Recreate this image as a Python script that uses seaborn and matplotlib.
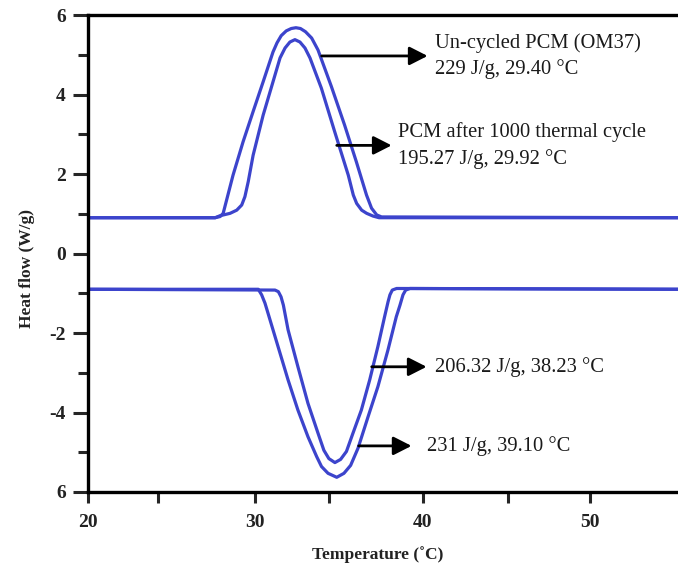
import matplotlib
matplotlib.use("Agg")
import matplotlib.pyplot as plt
import seaborn as sns
import pandas as pd

sns.set_theme(style="ticks")
plt.rcParams['font.family'] = ['Liberation Serif', 'DejaVu Serif']

# ---- data ----
# Melting (upper) curves
melt_uncycled_x = [20, 27.6, 27.9, 28.08, 28.67, 29.27, 29.87, 30.47, 31.06, 31.3, 31.55, 31.85,
                   32.15, 32.43, 32.7, 33.0, 33.37, 33.75, 34.55, 35.34, 36.04, 36.65, 36.95,
                   37.26, 37.55, 55.4]
melt_uncycled_y = [0.9, 0.9, 0.93, 1.01, 1.97, 2.81, 3.57, 4.32, 5.07, 5.30, 5.48, 5.60,
                   5.66, 5.68, 5.66, 5.58, 5.42, 5.12, 4.20, 3.23, 2.31, 1.47, 1.14,
                   0.97, 0.92, 0.9]

melt_cycled_x = [20, 27.6, 27.89, 28.49, 28.89, 29.19, 29.38, 29.58, 29.87, 30.47, 31.06, 31.48,
                 31.78, 32.07, 32.37, 32.67, 32.97, 33.27, 33.95, 34.75, 35.56, 35.86, 36.06,
                 36.36, 36.66, 37.05, 37.4, 55.4]
melt_cycled_y = [0.9, 0.9, 0.95, 1.01, 1.09, 1.22, 1.43, 1.81, 2.47, 3.48, 4.32, 4.92,
                 5.17, 5.32, 5.38, 5.32, 5.17, 4.92, 4.16, 3.06, 1.97, 1.47, 1.26,
                 1.09, 1.01, 0.94, 0.9, 0.9]

# Solidification (lower) curves
sol_uncycled_x = [20, 30.18, 30.38, 30.58, 30.76, 31.36, 31.96, 32.55, 33.15, 33.67, 33.96, 34.35,
                  34.87, 35.3, 35.7, 36.14, 36.74, 37.33, 37.93, 38.43, 38.65, 38.83, 38.99,
                  39.25, 55.4]
sol_uncycled_y = [-0.9, -0.9, -1.04, -1.25, -1.50, -2.34, -3.18, -3.94, -4.61, -5.11, -5.36, -5.53,
                  -5.63, -5.53, -5.33, -4.90, -4.11, -3.35, -2.43, -1.59, -1.30, -1.04, -0.92,
                  -0.88, -0.9]

sol_cycled_x = [20, 31.18, 31.38, 31.54, 31.68, 31.96, 32.55, 33.15, 33.75, 34.1, 34.4, 34.76,
                35.1, 35.45, 35.84, 36.34, 36.84, 37.33, 37.73, 37.94, 38.05, 38.19, 38.45, 55.4]
sol_cycled_y = [-0.9, -0.92, -0.96, -1.09, -1.30, -1.92, -2.85, -3.77, -4.52, -4.95, -5.16, -5.26,
                -5.18, -4.98, -4.52, -3.94, -3.18, -2.34, -1.59, -1.21, -1.04, -0.92, -0.88, -0.9]

y_ticks = [6, 4, 2, 0, -2, -4, -6]
y_tick_labels = ['6', '4', '2', '0', '-2', '-4', '6']
y_minor = [5, 3, 1, -1, -3, -5]
x_ticks = [20, 30, 40, 50]
x_tick_labels = ['20', '30', '40', '50']
x_minor = [24.2, 34.4, 45.1]

annotations = [
    # (arrow start x on curve, y, arrow end x, text x, text)
    (33.97, 4.97, 40.30, 40.72, "Un-cycled PCM (OM37)\n229 J/g, 29.40 \u00b0C"),
    (34.87, 2.72, 38.15, 38.55, "PCM after 1000 thermal cycle\n195.27 J/g, 29.92 \u00b0C"),
    (36.96, -2.85, 40.24, 40.72, "206.32 J/g, 38.23 \u00b0C"),
    (36.18, -4.84, 39.34, 40.24, "231 J/g, 39.10 \u00b0C"),
]

curves = [
    ("uncycled_melt", melt_uncycled_x, melt_uncycled_y),
    ("cycled_melt", melt_cycled_x, melt_cycled_y),
    ("uncycled_sol", sol_uncycled_x, sol_uncycled_y),
    ("cycled_sol", sol_cycled_x, sol_cycled_y),
]
frames = []
for name, xs, ys in curves:
    frames.append(pd.DataFrame({"T": xs, "H": ys, "curve": name}))
df = pd.concat(frames, ignore_index=True)

fig = plt.figure(figsize=(6.78, 5.74), dpi=100)
ax = fig.add_axes([88 / 678, (574 - 492) / 574, 1 - 88 / 678, (492 - 15) / 574])

line_color = "#3c44cc"
for name, sub in df.groupby("curve", sort=False):
    sns.lineplot(data=sub, x="T", y="H", ax=ax, color=line_color, lw=2.3,
                 estimator=None, sort=False, legend=False)
for ln in ax.lines:
    ln.set_solid_joinstyle('round')
    ln.set_solid_capstyle('round')

ax.set_xlim(20, 55.27)
ax.set_ylim(-6, 6)

ax.set_yticks(y_ticks)
ax.set_yticklabels(y_tick_labels)
ax.set_yticks(y_minor, minor=True)
ax.set_xticks(x_ticks)
ax.set_xticklabels(x_tick_labels)
ax.set_xticks(x_minor, minor=True)

for lab in ax.get_xticklabels() + ax.get_yticklabels():
    lab.set_fontweight("bold")
    lab.set_fontsize(14)
    lab.set_color("#222222")

ax.tick_params(axis='y', which='major', length=11, width=2.2, direction='out', pad=5)
ax.tick_params(axis='y', which='minor', length=7, width=2.2, direction='out')
ax.tick_params(axis='x', which='both', length=8, width=2.2, direction='out', pad=8)

for side in ['left', 'bottom', 'top']:
    ax.spines[side].set_linewidth(2.4)
    ax.spines[side].set_color('black')
ax.spines['right'].set_visible(False)

ax.set_xlabel("Temperature (\u02daC)", fontsize=12.5, fontweight='bold', color="#222222")
ax.set_ylabel("Heat flow (W/g)", fontsize=12.5, fontweight='bold', color="#222222")
ax.xaxis.set_label_coords((378 - 88) / 590, -(546 - 492) / 477)
ax.yaxis.set_label_coords(-(88 - 35) / 590, (492 - 268) / 477)

for (x0, y0, x1, tx, txt) in annotations:
    ax.annotate("", xy=(x1, y0), xytext=(x0, y0),
                arrowprops=dict(arrowstyle="-|>,head_length=0.55,head_width=0.28",
                                color="black", lw=2, mutation_scale=20,
                                shrinkA=0, shrinkB=0))
    ax.text(tx, y0, txt, fontsize=14.8, ha='left', va='center',
            color="#1a1a1a", linespacing=1.45)

fig.savefig("out.png", dpi=100)
